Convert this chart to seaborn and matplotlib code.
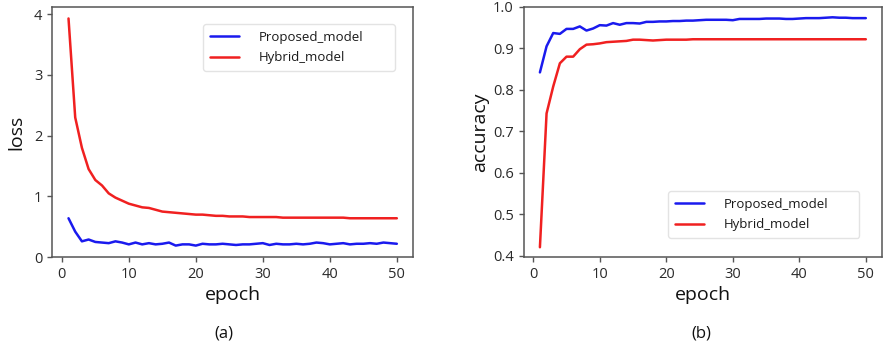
import numpy as np
import pandas as pd
import matplotlib.pyplot as plt
import seaborn as sns

# Data
epochs = list(range(1, 51))

loss_proposed = [0.64, 0.42, 0.26, 0.29, 0.25, 0.24, 0.23, 0.26, 0.24, 0.21,
                 0.24, 0.21, 0.23, 0.21, 0.22, 0.24, 0.19, 0.21, 0.21, 0.19,
                 0.22, 0.21, 0.21, 0.22, 0.21, 0.20, 0.21, 0.21, 0.22, 0.23,
                 0.20, 0.22, 0.21, 0.21, 0.22, 0.21, 0.22, 0.24, 0.23, 0.21,
                 0.22, 0.23, 0.21, 0.22, 0.22, 0.23, 0.22, 0.24, 0.23, 0.22]
loss_hybrid = [3.93, 2.30, 1.80, 1.45, 1.27, 1.18, 1.05, 0.98, 0.93, 0.88,
               0.85, 0.82, 0.81, 0.78, 0.75, 0.74, 0.73, 0.72, 0.71, 0.70,
               0.70, 0.69, 0.68, 0.68, 0.67, 0.67, 0.67, 0.66, 0.66, 0.66,
               0.66, 0.66, 0.65, 0.65, 0.65, 0.65, 0.65, 0.65, 0.65, 0.65,
               0.65, 0.65, 0.64, 0.64, 0.64, 0.64, 0.64, 0.64, 0.64, 0.64]

acc_proposed = [0.842, 0.905, 0.937, 0.935, 0.947, 0.947, 0.953, 0.943, 0.948, 0.956,
                0.955, 0.961, 0.957, 0.961, 0.961, 0.960, 0.964, 0.964, 0.965, 0.965,
                0.966, 0.966, 0.967, 0.967, 0.968, 0.969, 0.969, 0.969, 0.969, 0.968,
                0.971, 0.971, 0.971, 0.971, 0.972, 0.972, 0.972, 0.971, 0.971, 0.972,
                0.973, 0.973, 0.973, 0.974, 0.975, 0.974, 0.974, 0.973, 0.973, 0.973]
acc_hybrid = [0.420, 0.743, 0.808, 0.864, 0.880, 0.880, 0.898, 0.909, 0.910, 0.912,
              0.915, 0.916, 0.917, 0.918, 0.921, 0.921, 0.920, 0.919, 0.920, 0.921,
              0.921, 0.921, 0.921, 0.922, 0.922, 0.922, 0.922, 0.922, 0.922, 0.922,
              0.922, 0.922, 0.922, 0.922, 0.922, 0.922, 0.922, 0.922, 0.922, 0.922,
              0.922, 0.922, 0.922, 0.922, 0.922, 0.922, 0.922, 0.922, 0.922, 0.922]

model_names = ['Proposed_model', 'Hybrid_model']
colors = ['#1a1aee', '#f02020']

sns.set_style("ticks")
plt.rcParams['font.family'] = ['Open Sans', 'DejaVu Sans']
plt.rcParams['axes.edgecolor'] = '#555555'
plt.rcParams['xtick.color'] = '#555555'
plt.rcParams['ytick.color'] = '#555555'
plt.rcParams['xtick.labelcolor'] = '#2a2a2a'
plt.rcParams['ytick.labelcolor'] = '#2a2a2a'
plt.rcParams['legend.labelcolor'] = '#1a1a1a'


def long_frame(a, b, col):
    return pd.DataFrame({
        'epoch': epochs * 2,
        col: a + b,
        'model': [model_names[0]] * len(a) + [model_names[1]] * len(b),
    })


fig = plt.figure(figsize=(8.83, 3.47), dpi=100)
ax1 = fig.add_axes([0.059, 0.259, 0.409, 0.721])
ax2 = fig.add_axes([0.593, 0.260, 0.406, 0.720])

loss_df = long_frame(loss_proposed, loss_hybrid, 'loss')
acc_df = long_frame(acc_proposed, acc_hybrid, 'accuracy')

sns.lineplot(data=loss_df, x='epoch', y='loss', hue='model', palette=colors,
             linewidth=1.8, ax=ax1)
sns.lineplot(data=acc_df, x='epoch', y='accuracy', hue='model', palette=colors,
             linewidth=1.8, ax=ax2)

ax1.set_xlim(-1.45, 52.45)
ax1.set_ylim(0, 4.12)
ax1.set_yticks([0, 1, 2, 3, 4])
ax2.set_xlim(-1.45, 52.45)
ax2.set_ylim(0.397, 1.0)
ax2.set_yticks([0.4, 0.5, 0.6, 0.7, 0.8, 0.9, 1.0])

for ax in (ax1, ax2):
    ax.set_xticks([0, 10, 20, 30, 40, 50])
    ax.tick_params(labelsize=10.5, length=3.5, width=1)
    ax.set_xlabel('epoch', fontsize=14, labelpad=3, color='#111111')
    for s in ax.spines.values():
        s.set_linewidth(1.1)
ax1.set_ylabel('loss', fontsize=14, labelpad=6, color='#111111')
ax2.set_ylabel('accuracy', fontsize=14, labelpad=3, color='#111111')

legend_kw = dict(title=None, mode='expand', borderaxespad=0, fontsize=9.5,
                 handlelength=2.2, handletextpad=1.5, borderpad=0.5,
                 labelspacing=0.6, edgecolor='#dddddd', fancybox=True)
ax1.legend(loc='upper left', bbox_to_anchor=(0.418, 0.744, 0.531, 0.188), **legend_kw)
ax2.legend(loc='lower left', bbox_to_anchor=(0.403, 0.075, 0.533, 0.18), **legend_kw)

fig.text(224 / 883, 1 - 333 / 347, '(a)', ha='center', va='center', fontsize=12, color='#111111')
fig.text(701 / 883, 1 - 333 / 347, '(b)', ha='center', va='center', fontsize=12, color='#111111')

fig.savefig('out.png', dpi=100)
